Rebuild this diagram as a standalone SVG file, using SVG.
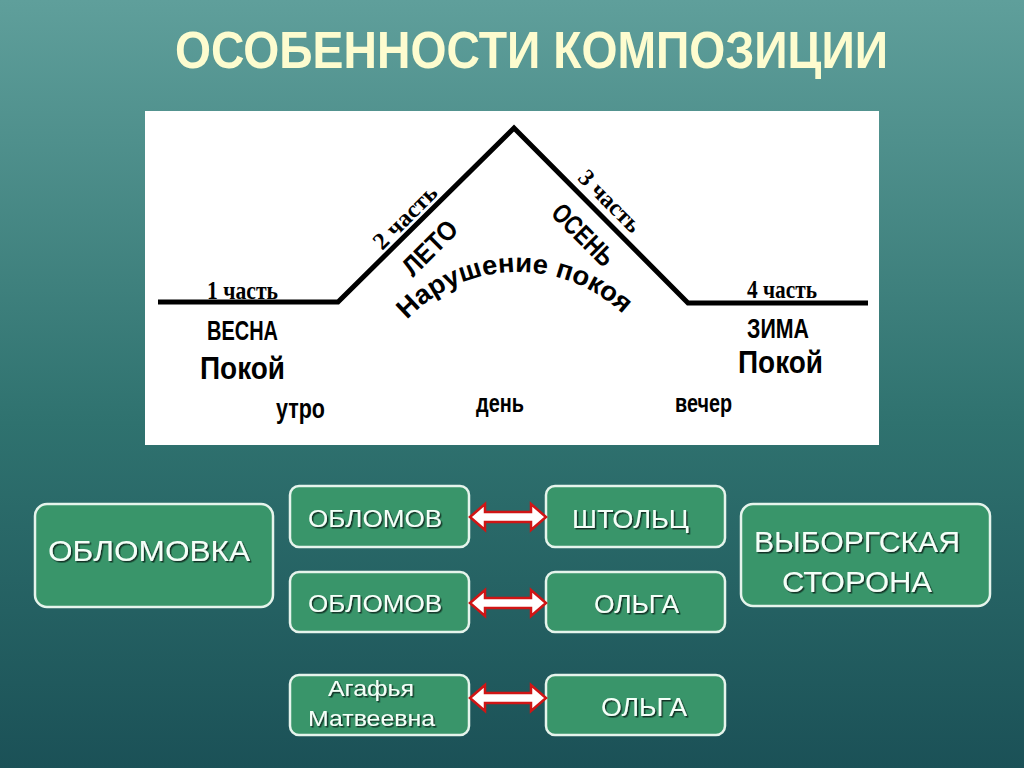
<svg xmlns="http://www.w3.org/2000/svg" width="1024" height="768" viewBox="0 0 1024 768">
<defs>
<linearGradient id="bg" x1="0" y1="0" x2="0" y2="1">
<stop offset="0" stop-color="#5f9f9b"/>
<stop offset="0.55" stop-color="#2f726f"/>
<stop offset="1" stop-color="#1b5157"/>
</linearGradient>
<filter id="sh" x="-10%" y="-20%" width="120%" height="140%">
<feDropShadow dx="1.5" dy="1.5" stdDeviation="0.6" flood-color="#0a2a1a" flood-opacity="0.9"/>
</filter>
<path id="arc" d="M 407 320 A 152 152 0 0 1 634 326"/>
</defs>
<style>
.box{fill:#39956a;stroke:#e6f4ec;stroke-width:2.5}
.bt{font-family:"Liberation Sans","DejaVu Sans",sans-serif;fill:#f4fff8;filter:url(#sh)}
.pt{font-family:"Liberation Sans","DejaVu Sans",sans-serif;font-weight:bold;fill:#000}
.st{font-family:"Liberation Serif","DejaVu Serif",serif;font-weight:bold;fill:#000}
.arr{fill:#ffffff;stroke:#d01515;stroke-width:2.5;stroke-linejoin:miter}
</style>
<rect width="1024" height="768" fill="url(#bg)"/>
<text x="175" y="68" font-family="'Liberation Sans','DejaVu Sans',sans-serif" font-weight="bold" font-size="51" fill="#fdfccf" textLength="713" lengthAdjust="spacingAndGlyphs">ОСОБЕННОСТИ КОМПОЗИЦИИ</text>
<g id="plot">
<rect x="145" y="111" width="734" height="334" fill="#ffffff"/>
<polyline points="158,302 338,302 514,128 688,303 868,303" fill="none" stroke="#000" stroke-width="5"/>
<text class="st" x="207" y="299" font-size="25" textLength="71" lengthAdjust="spacingAndGlyphs">1 часть</text>
<text class="pt" x="207" y="340" font-size="27" textLength="71" lengthAdjust="spacingAndGlyphs">ВЕСНА</text>
<text class="pt" x="200" y="379" font-size="31" textLength="85" lengthAdjust="spacingAndGlyphs">Покой</text>
<text class="pt" x="276" y="418" font-size="27" textLength="49" lengthAdjust="spacingAndGlyphs">утро</text>
<text class="pt" x="476" y="412" font-size="26" textLength="48" lengthAdjust="spacingAndGlyphs">день</text>
<text class="pt" x="675" y="412" font-size="26" textLength="57" lengthAdjust="spacingAndGlyphs">вечер</text>
<text class="st" x="747" y="298" font-size="25" textLength="70" lengthAdjust="spacingAndGlyphs">4 часть</text>
<text class="pt" x="747" y="338" font-size="27" textLength="62" lengthAdjust="spacingAndGlyphs">ЗИМА</text>
<text class="pt" x="738" y="373" font-size="31" textLength="85" lengthAdjust="spacingAndGlyphs">Покой</text>
<text class="st" transform="translate(405,217) rotate(-45)" text-anchor="middle" dominant-baseline="central" font-size="24" textLength="80" lengthAdjust="spacingAndGlyphs">2 часть</text>
<text class="pt" transform="translate(430,248) rotate(-45)" text-anchor="middle" dominant-baseline="central" font-size="27" font-weight="normal" textLength="66" lengthAdjust="spacingAndGlyphs">ЛЕТО</text>
<text class="st" transform="translate(610,201) rotate(45)" text-anchor="middle" dominant-baseline="central" font-size="24" textLength="78" lengthAdjust="spacingAndGlyphs">3 часть</text>
<text class="pt" transform="translate(583,235) rotate(45)" text-anchor="middle" dominant-baseline="central" font-size="27" font-weight="normal" textLength="76" lengthAdjust="spacingAndGlyphs">ОСЕНЬ</text>
<text class="pt" font-size="27"><textPath href="#arc" textLength="240" lengthAdjust="spacingAndGlyphs">Нарушение покоя</textPath></text>
</g>
<g id="n-oblomovka"><rect class="box" x="35" y="504" width="238" height="103" rx="12"/><text class="bt" x="48" y="561" font-size="30" textLength="202" lengthAdjust="spacingAndGlyphs">ОБЛОМОВКА</text></g>
<g id="n-oblomov1"><rect class="box" x="290" y="486" width="179" height="61" rx="9"/><text class="bt" x="308" y="527" font-size="23" textLength="134" lengthAdjust="spacingAndGlyphs">ОБЛОМОВ</text></g>
<g id="n-stolz"><rect class="box" x="546" y="486" width="179" height="61" rx="9"/><text class="bt" x="572" y="528" font-size="25" textLength="117" lengthAdjust="spacingAndGlyphs">ШТОЛЬЦ</text></g>
<g id="n-oblomov2"><rect class="box" x="290" y="572" width="179" height="60" rx="9"/><text class="bt" x="308" y="612" font-size="23" textLength="134" lengthAdjust="spacingAndGlyphs">ОБЛОМОВ</text></g>
<g id="n-olga1"><rect class="box" x="546" y="572" width="179" height="60" rx="9"/><text class="bt" x="594" y="613" font-size="25" textLength="85" lengthAdjust="spacingAndGlyphs">ОЛЬГА</text></g>
<g id="n-agafya"><rect class="box" x="290" y="675" width="179" height="60" rx="9"/><text class="bt" x="328" y="696" font-size="22" textLength="86" lengthAdjust="spacingAndGlyphs">Агафья</text><text class="bt" x="308" y="726" font-size="22" textLength="127" lengthAdjust="spacingAndGlyphs">Матвеевна</text></g>
<g id="n-olga2"><rect class="box" x="546" y="675" width="179" height="60" rx="9"/><text class="bt" x="601" y="716" font-size="25" textLength="86" lengthAdjust="spacingAndGlyphs">ОЛЬГА</text></g>
<g id="n-vyborg"><rect class="box" x="741" y="504" width="249" height="102" rx="12"/><text class="bt" x="754" y="552" font-size="29" textLength="206" lengthAdjust="spacingAndGlyphs">ВЫБОРГСКАЯ</text><text class="bt" x="782" y="592" font-size="29" textLength="150" lengthAdjust="spacingAndGlyphs">СТОРОНА</text></g>
<g id="connectors">
<polygon class="arr" points="470,517 485,504 485,512 531,512 531,504 546,517 531,530 531,522 485,522 485,530"/>
<polygon class="arr" points="470,603 485,590 485,598 531,598 531,590 546,603 531,616 531,608 485,608 485,616"/>
<polygon class="arr" points="470,698 485,685 485,693 531,693 531,685 546,698 531,711 531,703 485,703 485,711"/>
</g>
</svg>
